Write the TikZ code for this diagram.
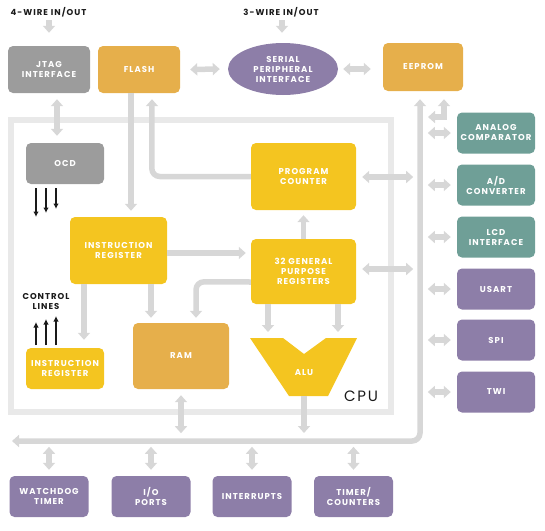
\documentclass[tikz,border=0pt]{standalone}
\usepackage{fontspec}
\usetikzlibrary{arrows.meta,shapes.geometric,calc}
\newfontfamily\labfont[LetterSpace=12]{Poppins}
\newfontfamily\cpufont[LetterSpace=12]{Poppins}
\definecolor{cgray}{HTML}{9C9C9C}
\definecolor{corange}{HTML}{E6AF4B}
\definecolor{cyellow}{HTML}{F4C520}
\definecolor{cteal}{HTML}{6F9F97}
\definecolor{cpurple}{HTML}{8D7EA8}
\definecolor{argray}{HTML}{D7D7D7}
\definecolor{cframe}{HTML}{E9E9E9}
\definecolor{ink}{HTML}{1A1A1A}
\tikzset{
  gt/.tip={Triangle[width=12pt,length=7pt,sep=2pt]},
  box/.style={rounded corners=5pt, inner sep=0pt, text=white, align=center,
    font=\labfont\bfseries\fontsize{8.5}{10}\selectfont},
  gar/.style={draw=argray, line width=5.5pt},
  blk/.style={draw=ink, line width=1.3pt, -{Latex[length=5.5pt,width=5.5pt]}},
  lbl/.style={text=ink, align=center, inner sep=0pt,
    font=\labfont\bfseries\fontsize{8.5}{10}\selectfont},
  perbox/.style={box, minimum width=78pt, minimum height=41pt},
  botbox/.style={box, fill=cpurple, minimum width=79pt, minimum height=41pt}
}
\begin{document}
\begin{tikzpicture}[x=1pt,y=-1pt]
\useasboundingbox (0,0) rectangle (545,530);

% CPU frame
\draw[draw=cframe, line width=6pt] (10.5,120) rectangle (390.5,412);

% labels
\node[lbl] (w4lbl) at (48.5,12) {4-WIRE IN/OUT};
\node[lbl] (w3lbl) at (281,12) {3-WIRE IN/OUT};
\node[lbl] (ctl) at (46,301) {CONTROL\\LINES};
\node[text=ink, inner sep=0pt, font=\cpufont\fontsize{15}{15}\selectfont] (cpu) at (361,396) {CPU};

% top row
\node[box, fill=cgray, minimum width=82pt, minimum height=47pt] (jtag) at (49,69.5) {JTAG\\INTERFACE};
\node[box, fill=corange, minimum width=82pt, minimum height=47pt] (flash) at (139,69.5) {FLASH};
\node[box, ellipse, fill=cpurple, minimum width=110pt, minimum height=52pt] (spi) at (283,69) {SERIAL\\PERIPHERAL\\INTERFACE};
\node[box, fill=corange, minimum width=80pt, minimum height=48pt] (eeprom) at (423,67) {EEPROM};

% CPU internals
\node[box, fill=cgray, minimum width=78pt, minimum height=41pt] (ocd) at (65,163.5) {OCD};
\node[box, fill=cyellow, minimum width=105pt, minimum height=67pt] (pc) at (303.5,176.5) {PROGRAM\\COUNTER};
\node[box, fill=cyellow, minimum width=97pt, minimum height=67pt] (ir) at (118.5,250.5) {INSTRUCTION\\REGISTER};
\node[box, fill=cyellow, minimum width=105pt, minimum height=65pt] (gpr) at (303.5,271.5) {32 GENERAL\\PURPOSE\\REGISTERS};
\node[box, fill=cyellow, minimum width=78pt, minimum height=41pt] (lir) at (65,368.5) {INSTRUCTION\\REGISTER};
\node[box, fill=corange, minimum width=96pt, minimum height=66pt] (ram) at (181,356) {RAM};
\fill[cyellow] (250,338) -- (283,338) -- (304,354) -- (326,338) -- (357,338) -- (328,396) -- (289,396) -- cycle;
\node[box] (alu) at (304,373) {ALU};
\coordinate (alut) at (304,338);
\coordinate (alub) at (304,396);

% peripherals
\node[perbox, fill=cteal] (acmp) at (496,133) {ANALOG\\COMPARATOR};
\node[perbox, fill=cteal] (adc) at (496,185) {A/D\\CONVERTER};
\node[perbox, fill=cteal] (lcd) at (496,237) {LCD\\INTERFACE};
\node[perbox, fill=cpurple] (usart) at (496,289) {USART};
\node[perbox, fill=cpurple] (spib) at (496,340) {SPI};
\node[perbox, fill=cpurple] (twi) at (496,392) {TWI};

% bottom row
\node[botbox] (wd) at (49,496.5) {WATCHDOG\\TIMER};
\node[botbox] (io) at (151,496.5) {I/O\\PORTS};
\node[botbox] (intr) at (252,496.5) {INTERRUPTS};
\node[botbox] (tmr) at (353.5,496.5) {TIMER/\\COUNTERS};

% coordinates for bus
\coordinate (busl) at (10,441);
\coordinate (busc) at (420,441);
\coordinate (w4) at (49,20);
\coordinate (w3) at (282,20);

% connectors
\draw[gar,-gt] (w4) -- ($(jtag.north)+(0,-11)$);
\draw[gar,-gt] (w3) -- ($(spi.north)+(-1,-8)$);
\draw[gar,gt-gt] ($(jtag.south)+(8,4)$) -- ($(ocd.north)+(-8,-5)$);
\draw[gar,gt-gt] ($(flash.east)+(8,0)$) -- ($(spi.west)+(-6,0)$);
\draw[gar,gt-gt] ($(spi.east)+(3,0)$) -- ($(eeprom.west)+(-10,2)$);
\draw[gar,-gt] ($(flash.south)+(-8,0)$) -- ($(ir.north)+(12.5,-4)$);
\draw[gar,-gt,rounded corners=8pt] (pc.west) -- ($(pc.west)+(-99,0)$) -- ($(flash.south)+(13,4)$);
\draw[gar,-gt] ($(ir.east)+(0,2.5)$) -- ($(gpr.west)+(-3,-18.5)$);
\draw[gar,-gt] (gpr.north) -- ($(pc.south)+(0,3)$);
\draw[gar,gt-gt] ($(pc.east)+(4,0.5)$) -- ($(pc.east)+(59,0.5)$);
\draw[gar,gt-gt] ($(gpr.east)+(4,-2.5)$) -- ($(gpr.east)+(59,-2.5)$);
\draw[gar,-gt,rounded corners=8pt] ($(gpr.west)+(0,10.5)$) -- ($(ram.north)+(15,-41)$) -- ($(ram.north)+(15,-3)$);
\draw[gar,-gt] ($(ir.south)+(-34.5,0)$) -- ($(lir.north)+(19,-6)$);
\draw[gar,-gt] ($(ir.south)+(32.5,0)$) -- ($(ram.north)+(-30,-3)$);
\draw[gar,-gt] ($(gpr.south)+(-35.5,0)$) -- ($(alut)+(-36,-4)$);
\draw[gar,-gt] ($(gpr.south)+(34.5,0)$) -- ($(alut)+(34,-4)$);
\draw[gar,-gt] (alub) -- ($(alub)+(0,39)$);
\draw[gar,gt-gt] ($(ram.south)+(0,4)$) -- ($(ram.south)+(0,46)$);
\draw[gar,gt-gt,rounded corners=8pt] (busl) -- (busc) -- ($(eeprom.south)+(-3,6)$);
\draw[gar,gt-gt] (426,117) -- (444,117) -- ($(eeprom.south)+(21,6)$);
\foreach \p in {acmp,adc,lcd,usart,spib,twi}
  \draw[gar,gt-gt] ($(\p.west)+(-31,0)$) -- ($(\p.west)+(-4,0)$);
\foreach \p in {wd,io,intr,tmr}
  \draw[gar,gt-gt] ($(\p.north)+(0,-31)$) -- ($(\p.north)+(0,-4)$);

% black control arrows
\coordinate (oa1) at (36,188); \coordinate (ob1) at (36,217);
\coordinate (oa2) at (46,188); \coordinate (ob2) at (46,213);
\coordinate (oa3) at (56,188); \coordinate (ob3) at (56,209);
\draw[blk] (oa1) -- (ob1);
\draw[blk] (oa2) -- (ob2);
\draw[blk] (oa3) -- (ob3);
\coordinate (ua1) at (36,345); \coordinate (ub1) at (36,322);
\coordinate (ua2) at (46,345); \coordinate (ub2) at (46,319);
\coordinate (ua3) at (56,345); \coordinate (ub3) at (56,316);
\draw[blk] (ua1) -- (ub1);
\draw[blk] (ua2) -- (ub2);
\draw[blk] (ua3) -- (ub3);
\end{tikzpicture}
\end{document}
